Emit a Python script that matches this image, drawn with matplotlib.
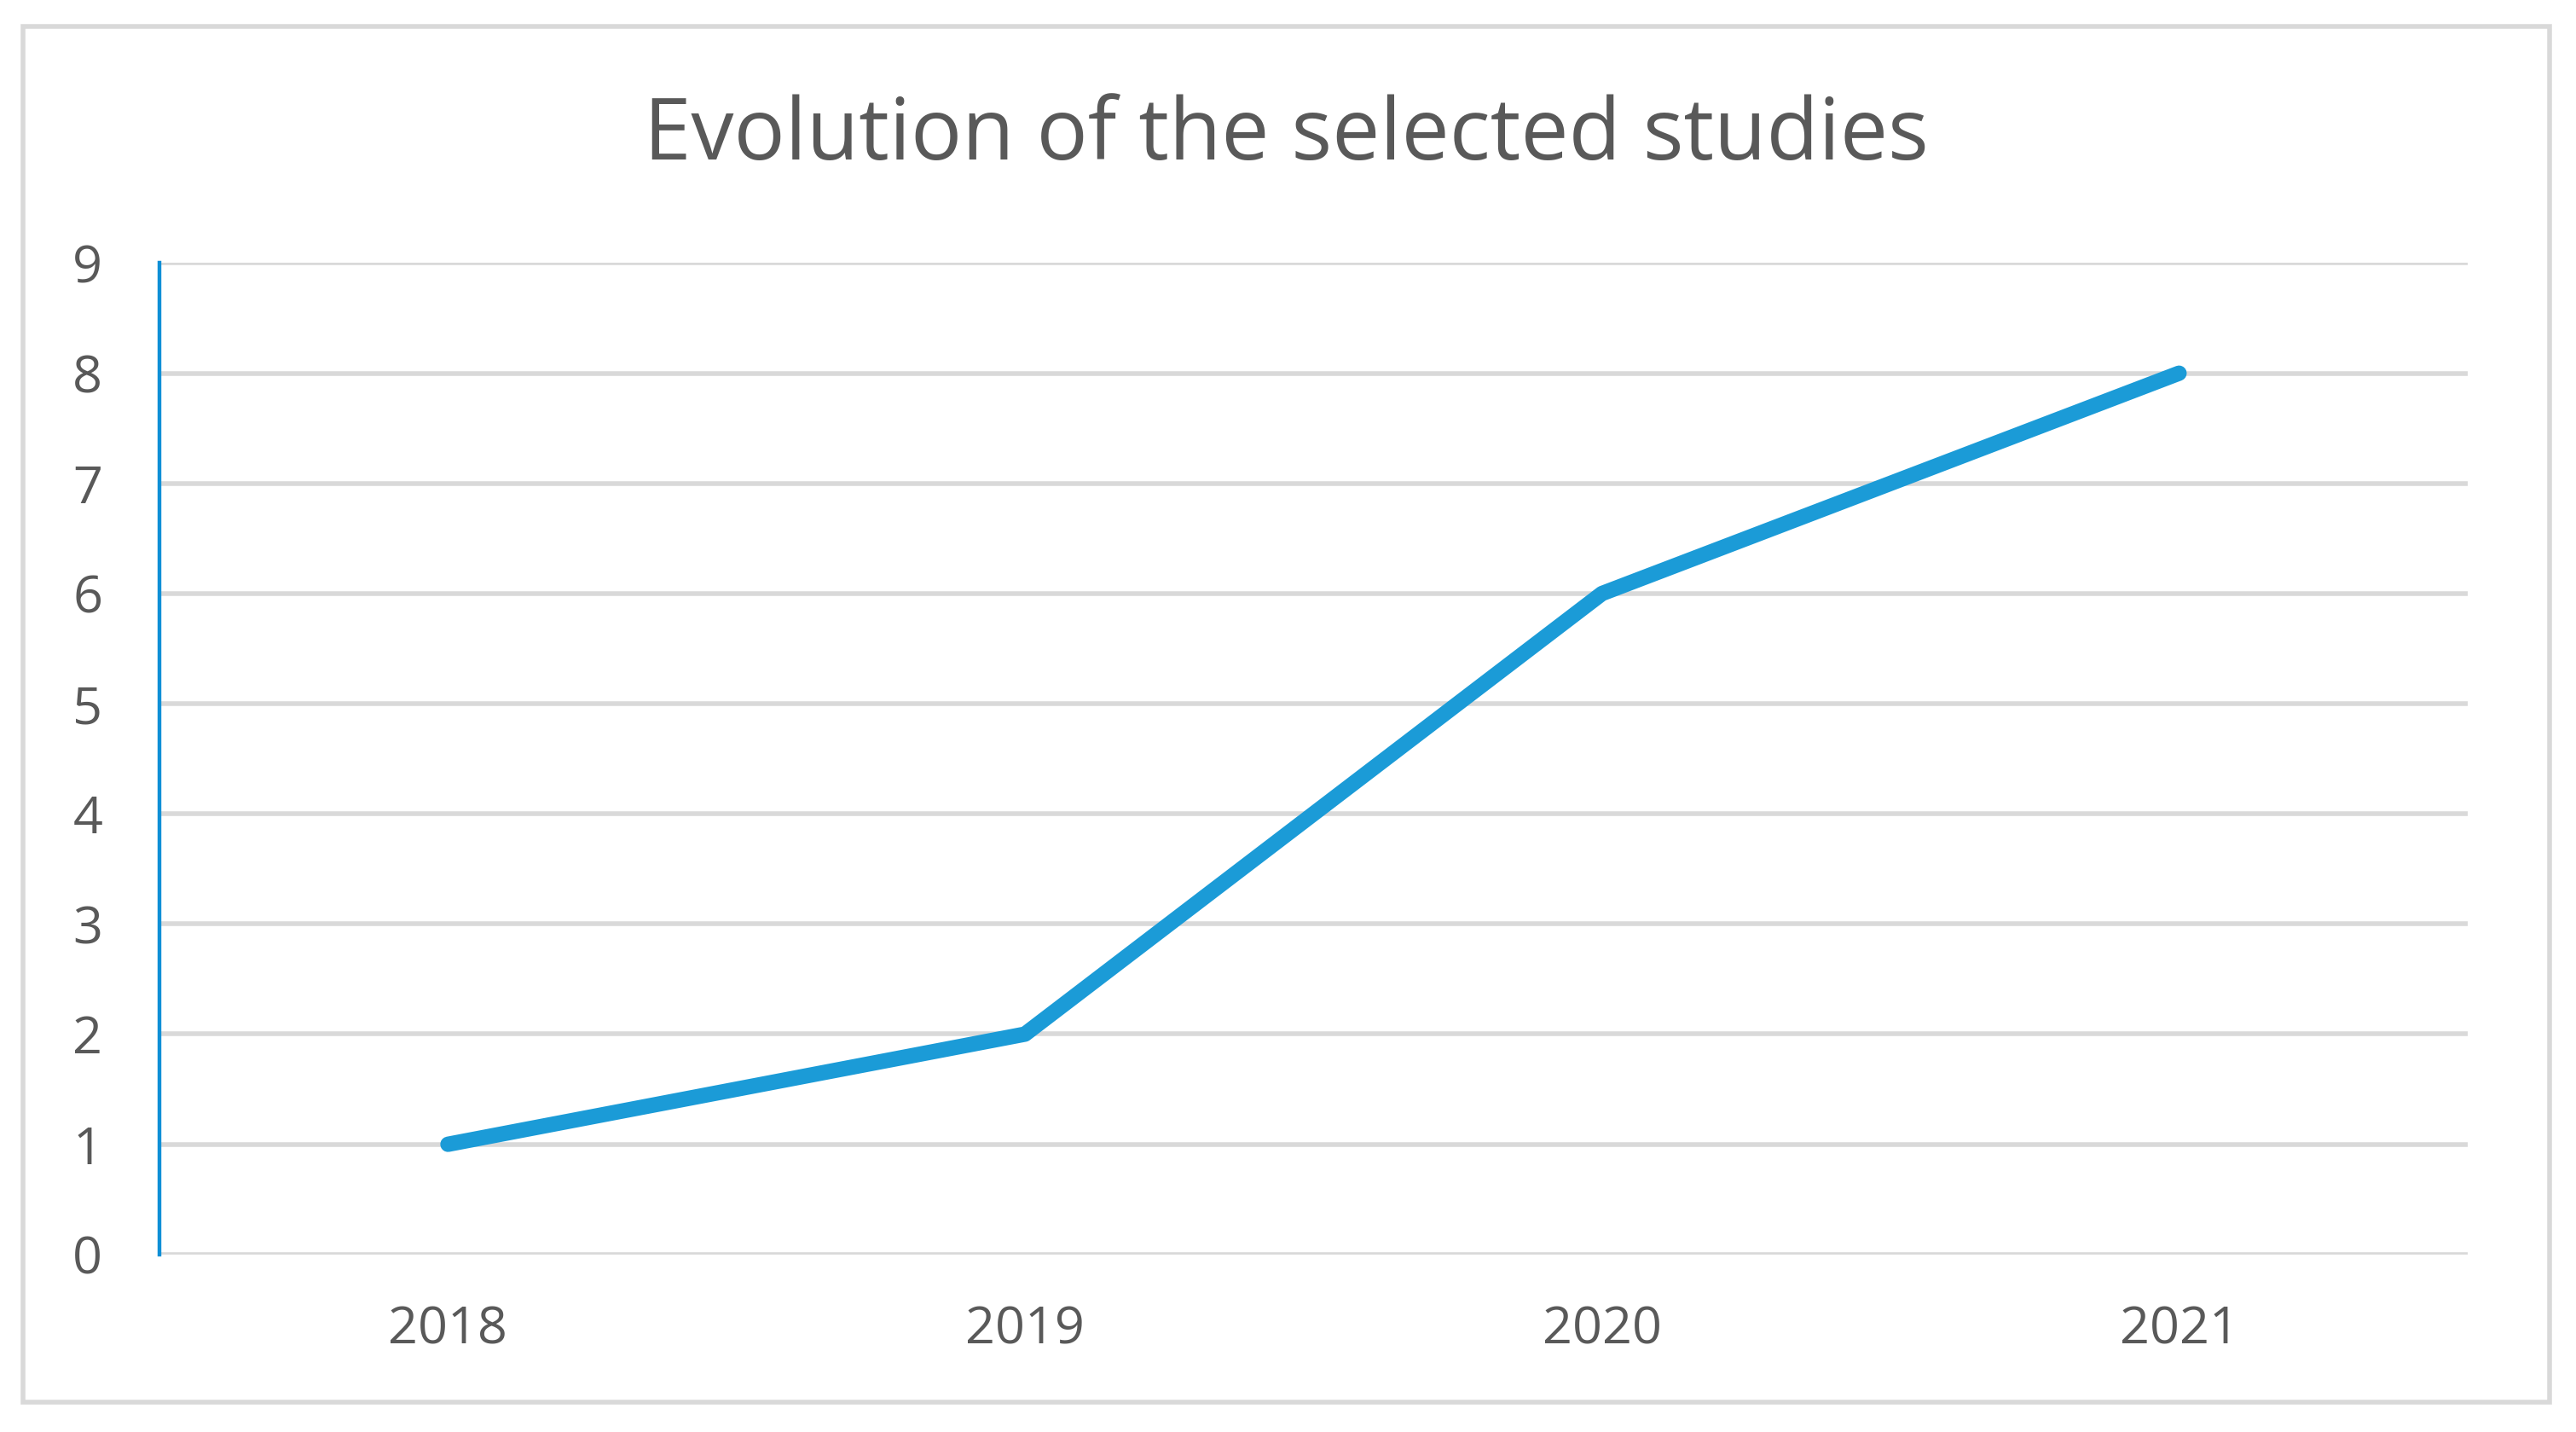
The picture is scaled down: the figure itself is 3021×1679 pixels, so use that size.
import matplotlib
matplotlib.use("Agg")
import matplotlib.pyplot as plt
from matplotlib.patches import Rectangle

years = ["2018", "2019", "2020", "2021"]
studies = [1, 2, 6, 8]
yticks = list(range(0, 10))
title = "Evolution of the selected studies"

DPI = 200
fig = plt.figure(figsize=(3021 / DPI, 1679 / DPI), dpi=DPI)
fig.patch.set_facecolor("white")

# chart border
fig.patches.append(Rectangle((0.0089, 0.0207), 0.9898 - 0.0089, 0.9816 - 0.0207,
                             transform=fig.transFigure, fill=False,
                             edgecolor="#d9d9d9", linewidth=2.0, zorder=0))

ax = fig.add_axes([0.0619, 0.124, 0.9579 - 0.0619, 0.8163 - 0.124])
x = list(range(len(years)))
ax.plot(x, studies, color="#1b9bd7", linewidth=6.5, solid_capstyle="round",
        solid_joinstyle="round", zorder=3)

ax.set_xlim(-0.5, len(years) - 0.5)
ax.set_ylim(0, 9)
ax.set_yticks(yticks)
ax.set_xticks(x)
ax.set_xticklabels(years)

for v in yticks:
    ax.axhline(v, color="#d9d9d9", linewidth=2.0, zorder=1)

for s in ["top", "right", "bottom"]:
    ax.spines[s].set_visible(False)
ax.spines["left"].set_color("#0f8fd6")
ax.spines["left"].set_linewidth(1.6)
ax.spines["left"].set_zorder(4)

font = "Open Sans"
ax.tick_params(axis="both", length=0, labelcolor="#595959", labelsize=22)
ax.tick_params(axis="y", pad=24)
ax.tick_params(axis="x", pad=21)
for lab in ax.get_xticklabels() + ax.get_yticklabels():
    lab.set_fontfamily(font)

fig.text(0.4994, 0.904, title, ha="center", va="center", fontsize=36,
         color="#595959", fontfamily=font)

fig.savefig("out.png", dpi=DPI, facecolor="white")
